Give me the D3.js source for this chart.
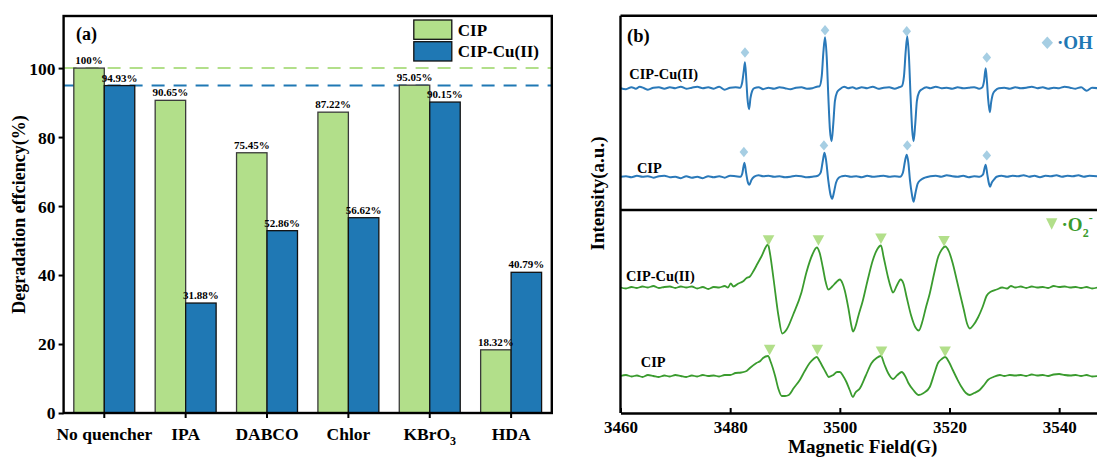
<!DOCTYPE html>
<html><head><meta charset="utf-8">
<script src="https://cdn.jsdelivr.net/npm/d3@7"></script>
<style>
body{margin:0;background:#fff}
svg{display:block}
text{font-family:"Liberation Serif","Times New Roman",serif;font-weight:bold;fill:#000}
</style></head>
<body><svg id="c" width="1097" height="460"></svg>
<script>
// ---------- DATA ----------
const categories = ["No quencher","IPA","DABCO","Chlor","KBrO3","HDA"];
const seriesNames = ["CIP","CIP-Cu(II)"];
const cipValues = [100, 90.65, 75.45, 87.22, 95.05, 18.32];
const cipCuValues = [94.93, 31.88, 52.86, 56.62, 90.15, 40.79];
const yTicksA = [0,20,40,60,80,100];
const refLines = [100, 94.93];
const xTicksB = [3460,3480,3500,3520,3540];

// EPR traces: [field (G), intensity relative to own baseline]
const ohCuTrace = [[3460,0],[3461,-1],[3462,1],[3462.8,-0.5],[3463.5,1.5],[3464.3,0],[3465,-1.5],[3466,0.5],[3467,1],[3468,-0.5],[3469,1],[3470,0],[3471,1.5],[3472,-0.5],[3473,0.5],[3474,1.5],[3475,0],[3476,1],[3477,-0.5],[3478,1.5],[3479,-1.5],[3480,0.5],[3481,1],[3481.8,0.5],[3482.2,6],[3482.5,18],[3482.7,26],[3482.95,8],[3483.15,-10],[3483.45,-21],[3483.7,-10],[3484.0,-3],[3484.4,0],[3485.2,1],[3486,-1],[3487,0.5],[3488,-0.5],[3489,1],[3490,0],[3491,-1],[3492,0.5],[3493,1],[3494,-0.5],[3495,0],[3495.8,1.5],[3496.3,2],[3496.7,12],[3497.0,36],[3497.3,51],[3497.6,32],[3497.9,-8],[3498.2,-42],[3498.5,-53],[3498.8,-36],[3499.1,-13],[3499.5,-4],[3500,-1],[3500.8,1.5],[3501.5,0],[3502.3,1],[3503,-0.5],[3504,1],[3505,0],[3506,1.5],[3507,-0.5],[3508,0.5],[3509,1],[3510,-0.5],[3510.8,1],[3511.3,2],[3511.7,12],[3512.0,36],[3512.3,52],[3512.6,32],[3512.9,-8],[3513.2,-42],[3513.45,-53],[3513.75,-36],[3514.05,-13],[3514.45,-4],[3515,-1],[3515.8,1],[3516.5,0],[3517.5,1.5],[3518.5,0],[3519.5,0.5],[3520.5,-0.5],[3521.5,1],[3522.5,0],[3523.5,0.5],[3524.5,1],[3525.4,-0.5],[3526.0,1],[3526.3,7],[3526.6,20],[3526.85,5],[3527.05,-11],[3527.35,-24],[3527.6,-14],[3527.9,-6],[3528.4,-2],[3529,0],[3530,0.5],[3531,-0.5],[3532,1],[3533,0],[3534,0.5],[3535,1.5],[3536,0],[3537,1],[3538,-0.5],[3539,0.5],[3540,0],[3541,1.5],[3542,0.5],[3543,-0.5],[3544,1],[3545,-2.5],[3546,0.5],[3547,0]];
const ohCipTrace = [[3460,0],[3461,0.5],[3462,-0.5],[3463,1],[3464,0],[3465,0.5],[3466,-1],[3467,0.5],[3468,1],[3469,-0.5],[3470,0],[3471,-1.5],[3472,0.5],[3473,-1],[3474,0],[3475,-1.5],[3476,0.5],[3477,-0.5],[3478,0.5],[3479,-1],[3480,1],[3481,0.5],[3481.9,0],[3482.2,3],[3482.6,14],[3482.9,4],[3483.2,-5],[3483.5,-8],[3483.9,-3],[3484.4,0],[3485.2,1.5],[3486,0.5],[3487,1],[3488,0],[3489,0.5],[3490,-0.5],[3491,0],[3492,1],[3493,0.5],[3494,-0.5],[3495,0],[3496,1],[3496.5,4],[3496.9,16],[3497.2,24],[3497.5,16],[3497.9,-4],[3498.3,-18],[3498.6,-22],[3498.95,-15],[3499.3,-6],[3499.8,-1],[3500.4,0.5],[3501,1],[3502,0],[3503,0.5],[3504,-0.5],[3505,1],[3506,0],[3507,0.5],[3508,1],[3509,0],[3510,0.5],[3511,0],[3511.5,4],[3511.9,16],[3512.2,22],[3512.5,14],[3512.8,-4],[3513.15,-18],[3513.45,-25],[3513.8,-16],[3514.2,-7],[3514.8,-3],[3515.5,-1],[3516.5,0.5],[3517.5,1],[3518.5,0],[3519.5,1.5],[3520.5,0.5],[3521.5,0],[3522.5,1],[3523.5,-0.5],[3524.5,0.5],[3525.5,0],[3526.1,2],[3526.6,12],[3526.9,2],[3527.2,-7],[3527.4,-10],[3527.7,-6],[3528.1,-3],[3528.6,0],[3529.5,1],[3530.5,0],[3531.5,1],[3532.5,0.5],[3533.5,1.5],[3534.5,0],[3535.5,1],[3536.5,-0.5],[3537.5,1],[3538.5,0.5],[3539.5,1.5],[3540.5,0],[3541.5,1],[3542.5,0.5],[3543.5,1.5],[3544.5,0],[3545.5,1],[3547,0.5]];
const o2CuTrace = [[3460,0],[3461,-1],[3462,0.5],[3463,-0.5],[3464,1],[3465,0],[3466,1.5],[3467,-0.5],[3468,0.5],[3469,1],[3470,-0.5],[3471,1],[3472,0],[3473,1],[3474,-1],[3475,0.5],[3476,-1.5],[3477,0.5],[3478,0],[3479,1.5],[3479.6,0],[3480.1,4],[3480.6,1],[3481.5,4],[3482.3,6],[3483.0,9.5],[3483.6,11],[3484.2,16],[3485.0,24],[3485.7,31],[3486.9,43],[3487.2,36],[3487.9,9],[3488.8,-28],[3489.5,-46],[3490.3,-42],[3491.5,-27],[3493.0,-5],[3493.9,15],[3495.0,33],[3495.8,40],[3496.3,35],[3496.9,20],[3497.4,6],[3497.9,-2],[3498.6,1],[3499.3,5],[3500.0,8],[3500.5,4],[3500.9,-3],[3501.6,-22],[3502.1,-38],[3502.4,-44],[3502.8,-40],[3503.4,-28],[3504.2,-13],[3505.1,8],[3506.0,27],[3506.8,38],[3507.5,42],[3508.0,30],[3508.8,10],[3509.3,0],[3509.7,-5],[3510.4,2],[3511.1,8],[3511.6,4],[3512.2,-10],[3513.0,-28],[3513.8,-40],[3514.4,-43],[3515.0,-35],[3515.7,-20],[3516.4,-6],[3517.2,14],[3517.9,30],[3518.6,38],[3519.2,41],[3519.9,36],[3520.6,24],[3521.3,8],[3521.9,-6],[3522.6,-22],[3523.2,-36],[3523.7,-41],[3524.3,-38],[3525.2,-30],[3526.0,-20],[3526.8,-8],[3527.6,-4],[3528.6,-2],[3529.6,0],[3530.5,-1],[3531.2,1.5],[3532,0],[3533,1],[3534,-0.5],[3535,1],[3536,0],[3537,0.5],[3538,-0.5],[3539,1.5],[3540,0.5],[3541,1],[3542,0],[3543,0.5],[3544,-0.5],[3545,0.5],[3546,-1],[3547,0]];
const o2CipTrace = [[3460,0],[3461,1],[3462,-0.5],[3463,0.5],[3464,-1],[3465,1],[3466,0],[3467,-1],[3468,0.5],[3469,-0.5],[3470,1],[3471,0],[3472,-1],[3473,0.5],[3474,-0.5],[3475,1],[3476,0],[3477,0.5],[3478,-0.5],[3479,1],[3480,1],[3481,3],[3482,3.5],[3483,5],[3483.6,8],[3484.8,13],[3485.5,15],[3486.0,18],[3486.9,20],[3487.4,14],[3488.2,0],[3488.8,-13],[3489.4,-20],[3490.0,-20],[3490.7,-19],[3491.6,-12],[3492.7,-4],[3493.6,5],[3494.5,13],[3495.2,17],[3495.8,19],[3496.3,15],[3496.9,9],[3497.4,4],[3498.0,-1],[3498.8,1],[3499.5,4],[3500.0,4],[3500.6,0],[3501.2,-6],[3501.8,-14],[3502.4,-21],[3502.8,-17],[3503.7,-12],[3504.7,0],[3505.8,13],[3506.7,18],[3507.5,20],[3508.1,12],[3508.8,3],[3509.7,-3],[3510.5,1],[3511.3,4],[3511.9,0],[3512.5,-7],[3513.4,-14],[3514.4,-19],[3515.3,-17],[3516.4,-11],[3517.2,2],[3517.9,13],[3518.6,17],[3519.2,19],[3519.9,14],[3520.6,6],[3521.4,-3],[3522.2,-11],[3523.0,-17],[3523.7,-19],[3524.5,-17],[3525.5,-14],[3526.3,-9],[3527.0,-4],[3528.0,-1],[3529.2,1],[3530,0],[3531,1],[3532,0.5],[3533,1],[3534,0],[3535,1.5],[3536,0.5],[3537,1],[3538,0],[3539,1.5],[3540,2],[3541,1],[3542,0.5],[3543,1],[3544,0],[3545,1],[3546,-0.5],[3547,0]];
const traceOffsets = {cu: 88.5, cip: 0};
// peak markers: [field, intensity relative to baseline]
const ohCuMarkers = [[3482.7,35.7],[3497.3,58],[3512.2,57],[3526.8,30.7]];
const ohCipMarkers = [[3482.5,24.7],[3497.1,31.3],[3512.3,31.3],[3526.8,21.3]];
const o2CuMarkers = [[3487.0,47],[3496.1,47],[3507.5,48.7],[3519.0,46.3]];
const o2CipMarkers = [[3487.2,26],[3495.9,26],[3507.6,24.3],[3519.2,24.3]];

// ---------- DRAW ----------
const svg = d3.select('#c');
const cGreen = "#b2df8a", cBlue = "#1f78b4", cLightBlue = "#a6cee3", cLine = "#3a9b2e", cLineBlue = "#2a79b9";

// Panel (a)
const aL = 63.6, aR = 551.8, aT = 16, aB = 413;
const x0 = d3.scaleBand().domain(categories).range([aL, aR]).padding(0);
const x1 = d3.scaleBand().domain(seriesNames).range([0, x0.bandwidth()]).paddingInner(0).paddingOuter(0.335);
const yA = d3.scaleLinear().domain([0, 115.1]).range([aB, aT]);
const colorA = d3.scaleOrdinal().domain(seriesNames).range([cGreen, cBlue]);

const gA = svg.append('g');
gA.selectAll('line.ref').data(refLines).join('line').attr('class','ref')
  .attr('x1', aL).attr('x2', aR).attr('y1', d => yA(d)).attr('y2', d => yA(d))
  .attr('stroke', (d,i) => i ? cBlue : cGreen).attr('stroke-width', 2).attr('stroke-dasharray', '13,9');

const rows = categories.map((c,i) => ({cat: c, vals: [{s: seriesNames[0], v: cipValues[i]}, {s: seriesNames[1], v: cipCuValues[i]}]}));
const groups = gA.selectAll('g.cat').data(rows).join('g').attr('transform', d => `translate(${x0(d.cat)},0)`);
groups.selectAll('rect').data(d => d.vals).join('rect')
  .attr('x', d => x1(d.s)).attr('width', x1.bandwidth())
  .attr('y', d => yA(d.v)).attr('height', d => yA(0) - yA(d.v))
  .attr('fill', d => colorA(d.s)).attr('stroke', d => d.s === 'CIP' ? '#3a3a3a' : '#111').attr('stroke-width', 1.3);
groups.selectAll('text').data(d => d.vals).join('text')
  .attr('x', d => x1(d.s) + x1.bandwidth()/2).attr('y', d => yA(d.v) - 4)
  .attr('text-anchor', 'middle').style('font-size', '11px').text(d => d.v + '%');

gA.append('rect').attr('x', aL).attr('y', aT).attr('width', aR - aL).attr('height', aB - aT)
  .attr('fill', 'none').attr('stroke', '#000').attr('stroke-width', 2.4);

const axA = gA.append('g').attr('transform', `translate(0,${aB})`)
  .call(d3.axisBottom(x0).tickSize(5).tickSizeOuter(0));
axA.attr('font-family', null).attr('font-size', null);
axA.select('.domain').remove();
axA.selectAll('line').attr('stroke-width', 2);
axA.selectAll('text').attr('y', 27).attr('dy', 0).style('font-size', '17.5px')
  .each(function(d){
    if (d === 'KBrO3') {
      const t = d3.select(this).text('');
      t.append('tspan').text('KBrO');
      t.append('tspan').text('3').style('font-size', '12px').attr('dy', 5);
    }
  });
const ayA = gA.append('g').attr('transform', `translate(${aL},0)`)
  .call(d3.axisLeft(yA).tickValues(yTicksA).tickSize(5).tickSizeOuter(0));
ayA.attr('font-family', null).attr('font-size', null);
ayA.select('.domain').remove();
ayA.selectAll('line').attr('stroke-width', 2);
ayA.selectAll('text').attr('x', -8).attr('dy', '0.34em').style('font-size', '17.5px');

svg.append('text').attr('transform', `translate(25,${(aT + aB)/2}) rotate(-90)`)
  .attr('text-anchor', 'middle').style('font-size', '18px').text('Degradation effciency(%)');
svg.append('text').attr('x', 76).attr('y', 40).style('font-size', '18px').text('(a)');

// legend (a)
const legA = svg.append('g').attr('transform', `translate(${aR - 138},20)`);
seriesNames.forEach((s, i) => {
  legA.append('rect').attr('x', 0).attr('y', i * 21.7).attr('width', 38).attr('height', 19.3)
    .attr('fill', colorA(s)).attr('stroke', '#111').attr('stroke-width', 1.3);
  legA.append('text').attr('x', 44).attr('y', i * 21.7 + 15.5).style('font-size', '17px').text(s);
});

// Panel (b)
const bL = 620.5, bR = 1097, bT = 15.7, bM = 210, bB = 413;
const xB = d3.scaleLinear().domain([3460, 3546.9]).range([bL, bR]);
const yOH = d3.scaleLinear().domain([-33.3, 161]).range([bM, bT]);
const yO2 = d3.scaleLinear().domain([-37, 166]).range([bB, bM]);

const gB = svg.append('g');
const mkLine = (ys, off) => d3.line().x(d => xB(d[0])).y(d => ys(d[1] + off)).curve(d3.curveMonotoneX);

gB.append('path').datum(ohCuTrace).attr('d', mkLine(yOH, traceOffsets.cu)).attr('fill','none').attr('stroke', cLineBlue).attr('stroke-width', 2);
gB.append('path').datum(ohCipTrace).attr('d', mkLine(yOH, traceOffsets.cip)).attr('fill','none').attr('stroke', cLineBlue).attr('stroke-width', 2);
gB.append('path').datum(o2CuTrace).attr('d', mkLine(yO2, traceOffsets.cu)).attr('fill','none').attr('stroke', cLine).attr('stroke-width', 1.8);
gB.append('path').datum(o2CipTrace).attr('d', mkLine(yO2, traceOffsets.cip)).attr('fill','none').attr('stroke', cLine).attr('stroke-width', 1.8);

const diamond = (w, h) => ({draw(ctx){ ctx.moveTo(0,-h); ctx.lineTo(w,0); ctx.lineTo(0,h); ctx.lineTo(-w,0); ctx.closePath(); }});
const tri = (w, h) => ({draw(ctx){ ctx.moveTo(-w,-h/2); ctx.lineTo(w,-h/2); ctx.lineTo(0,h/2); ctx.closePath(); }});
const dPath = d3.symbol().type(diamond(4.3, 5.2))();
const tPath = d3.symbol().type(tri(5.8, 10.5))();

[[ohCuMarkers, traceOffsets.cu],[ohCipMarkers, traceOffsets.cip]].forEach(([m, off]) => {
  gB.selectAll(null).data(m).join('path').attr('d', dPath)
    .attr('transform', d => `translate(${xB(d[0])},${yOH(d[1] + off)})`).attr('fill', cLightBlue);
});
[[o2CuMarkers, traceOffsets.cu],[o2CipMarkers, traceOffsets.cip]].forEach(([m, off]) => {
  gB.selectAll(null).data(m).join('path').attr('d', tPath)
    .attr('transform', d => `translate(${xB(d[0])},${yO2(d[1] + off)})`).attr('fill', cGreen);
});

// frame (b)
gB.append('line').attr('x1', bL).attr('x2', bL).attr('y1', bT).attr('y2', bB).attr('stroke','#000').attr('stroke-width', 2.4);
gB.append('line').attr('x1', bL).attr('x2', bR + 5).attr('y1', bT).attr('y2', bT).attr('stroke','#000').attr('stroke-width', 2.4);
gB.append('line').attr('x1', bL).attr('x2', bR + 5).attr('y1', bM).attr('y2', bM).attr('stroke','#000').attr('stroke-width', 2.4);
const axB = gB.append('g').attr('transform', `translate(0,${bB})`)
  .call(d3.axisBottom(xB).tickValues(xTicksB).tickSizeInner(-5).tickSizeOuter(0).tickFormat(d3.format('d')));
axB.attr('font-family', null).attr('font-size', null);
axB.select('.domain').attr('stroke-width', 2.6);
axB.selectAll('line').attr('stroke-width', 2);
axB.selectAll('text').attr('y', 20).attr('dy', 0).style('font-size', '17px');

svg.append('text').attr('x', 627).attr('y', 41.5).style('font-size', '18.5px').text('(b)');
svg.append('text').attr('x', (bL + bR)/2 + 4).attr('y', 453).attr('text-anchor','middle').style('font-size', '19px').text('Magnetic Field(G)');
svg.append('text').attr('transform', 'translate(603.5,193.5) rotate(-90)').attr('text-anchor','middle').style('font-size', '19px').text('Intensity(a.u.)');

// trace labels
const lbl = (x, y, t) => svg.append('text').attr('x', x).attr('y', y).style('font-size', '14.4px').text(t);
lbl(xB(3461.6), yOH(traceOffsets.cu + 9.5), 'CIP-Cu(II)');
lbl(xB(3463.0), yOH(traceOffsets.cip + 3.5), 'CIP');
lbl(xB(3461.0), yO2(traceOffsets.cu + 6.5), 'CIP-Cu(II)');
lbl(xB(3463.7), yO2(traceOffsets.cip + 8.7), 'CIP');

// legend (b)
svg.append('path').attr('d', d3.symbol().type(diamond(5.7, 6.3))()).attr('transform', 'translate(1047.3,42.7)').attr('fill', cLightBlue);
svg.append('text').attr('x', 1057).attr('y', 49).style('font-size', '19px').style('fill', cBlue).text('\u00B7OH');
svg.append('path').attr('d', d3.symbol().type(tri(5.7, 11.5))()).attr('transform', 'translate(1051.7,224)').attr('fill', cGreen);
const o2t = svg.append('text').attr('x', 1061.5).attr('y', 230.5).style('font-size', '19px').style('fill', cLine);
o2t.append('tspan').text('\u00B7O');
o2t.append('tspan').text('2').style('font-size', '12px').attr('dy', 6);
o2t.append('tspan').text('-').style('font-size', '12px').attr('dy', -15);
</script></body></html>
